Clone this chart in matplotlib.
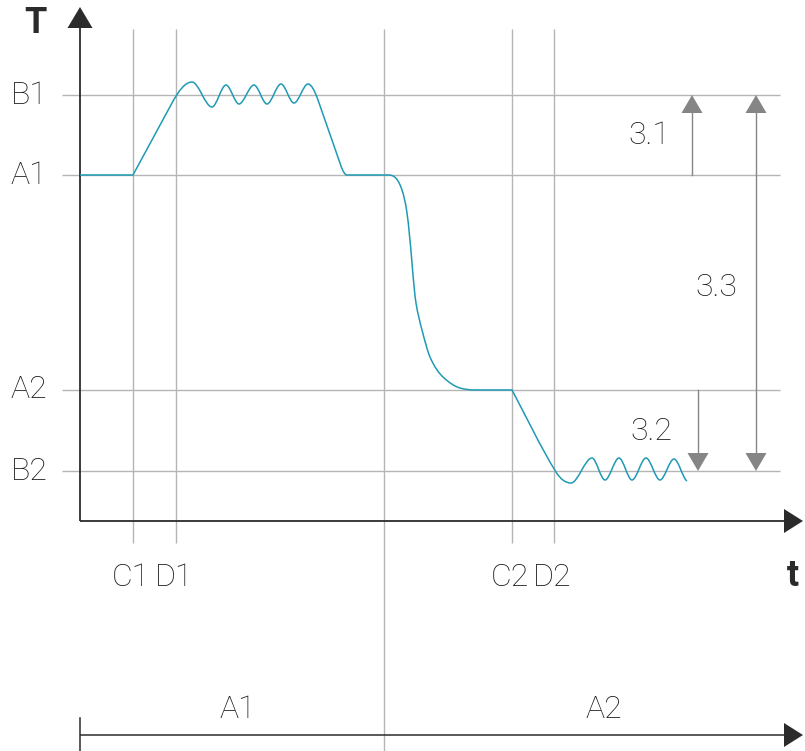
import matplotlib
matplotlib.use("Agg")
import matplotlib.pyplot as plt
from matplotlib.path import Path
from matplotlib.patches import PathPatch, Polygon

# ---- levels on the T axis and marked instants on the t axis ----
level_names = ["B1", "A1", "A2", "B2"]
level_values = [426, 346, 131, 50]

time_names = ["C1", "D1", "C2", "D2"]
time_values = [53, 96, 432, 474]
phase_split = 304
phase_names = ["A1", "A2"]

# ---- temperature trace: knots (t, T, dT/dt) joined by cubic Hermite segments ----
knot_t = [0, 53, 53, 92, 112, 132, 146, 159, 174, 187, 201, 214, 228, 238, 261, 267,
          306, 322, 327, 332, 336, 342, 350, 363, 380, 395, 432, 432, 476, 491,
          512, 525, 539, 552, 566, 580, 594, 607]
knot_T = [346, 346, 346, 418, 439, 414, 436, 417, 436, 417, 437, 418, 437, 421, 355, 346,
          346, 331, 308, 258, 218, 191, 164, 144, 133, 131, 131, 131, 49, 38,
          63, 41, 63, 41, 63, 41, 62, 40]
knot_slope = [0, 0, 1.86, 1.86, 0, 0, 0, 0, 0, 0, 0, 0, 0, -2.8, -2.8, 0,
              0, -3.0, -7.0, -12.0, -6.0, -3.8, -2.3, -0.95, -0.3, 0, 0, -1.88, -1.6, 0,
              0, 0, 0, 0, 0, 0, 0, -0.6]

# ---- annotation arrows: (label, t position, from level, to level(s)) ----
arrow_31 = ("3.1", 612, "A1", ["B1"])
arrow_32 = ("3.2", 618, "A2", ["B2"])
arrow_33 = ("3.3", 676, None, ["B1", "B2"])

TRACE = "#1f9ab4"
GRID = "#b5b5b5"
AXIS = "#2b2b2b"
ARROW = "#858585"
TEXT = "#1a1a1a"

plt.rcParams["font.family"] = ["Roboto", "DejaVu Sans"]

fig = plt.figure(figsize=(8.05, 7.51), dpi=100)
ax = fig.add_axes([0, 0, 1, 1])
ax.set_xlim(-80, 725)
ax.set_ylim(-230, 521)
ax.axis("off")

lvl = dict(zip(level_names, level_values))

# grid lines for levels and instants
for v in level_values:
    ax.plot([-18, 700], [v, v], color=GRID, lw=1.0, zorder=1, solid_capstyle="butt")
for v in time_values:
    ax.plot([v, v], [-22, 492], color=GRID, lw=1.0, zorder=1, solid_capstyle="butt")
ax.plot([phase_split, phase_split], [-230, 492], color=GRID, lw=1.0, zorder=1,
        solid_capstyle="butt")

# main axes with arrowheads
ax.plot([0, 0], [0, 494], color=AXIS, lw=1.3, zorder=3, solid_capstyle="butt")
ax.plot([0, 705], [0, 0], color=AXIS, lw=1.3, zorder=3, solid_capstyle="butt")
ax.add_patch(Polygon([[-12.5, 493], [12.5, 493], [0, 514]], closed=True,
                     color=AXIS, lw=0, zorder=4))
ax.add_patch(Polygon([[704, 12], [704, -12], [723, 0]], closed=True,
                     color=AXIS, lw=0, zorder=4))

# phase time line at the bottom
y_phase = -214
ax.plot([0, 705], [y_phase, y_phase], color=AXIS, lw=1.1, zorder=3, solid_capstyle="butt")
ax.plot([0, 0], [-197, -230], color=AXIS, lw=1.1, zorder=3)
ax.add_patch(Polygon([[704, y_phase + 12], [704, y_phase - 12], [723, y_phase]],
                     closed=True, color=AXIS, lw=0, zorder=4))

# temperature trace
verts = [(knot_t[0], knot_T[0])]
codes = [Path.MOVETO]
for i in range(len(knot_t) - 1):
    x0, y0, s0 = knot_t[i], knot_T[i], knot_slope[i]
    x1, y1, s1 = knot_t[i + 1], knot_T[i + 1], knot_slope[i + 1]
    h = (x1 - x0) / 3.0
    verts += [(x0 + h, y0 + s0 * h), (x1 - h, y1 - s1 * h), (x1, y1)]
    codes += [Path.CURVE4] * 3
ax.add_patch(PathPatch(Path(verts, codes), fill=False, edgecolor=TRACE, lw=1.1,
                       zorder=5, capstyle="butt"))

# dimension arrows
HEAD_L, HEAD_W = 18, 10.5


def head(x, tip, direction):
    base = tip - direction * HEAD_L
    ax.add_patch(Polygon([[x - HEAD_W, base], [x + HEAD_W, base], [x, tip]],
                         closed=True, color=ARROW, lw=0, zorder=4))
    return base


for label, x, start, ends in (arrow_31, arrow_32, arrow_33):
    if start is None:
        hi, lo = lvl[ends[0]], lvl[ends[1]]
        b_hi = head(x, hi, 1)
        b_lo = head(x, lo, -1)
        ax.plot([x, x], [b_lo, b_hi], color=ARROW, lw=1.0, zorder=4)
    else:
        y0 = lvl[start]
        tip = lvl[ends[0]]
        d = 1 if tip > y0 else -1
        b = head(x, tip, d)
        ax.plot([x, x], [y0, b], color=ARROW, lw=1.0, zorder=4)

FS = 23
FW = "light"
ax.text(569, 386, arrow_31[0], ha="center", va="center", fontsize=FS, color=TEXT,
        fontweight=FW)
ax.text(571, 90, arrow_32[0], ha="center", va="center", fontsize=FS, color=TEXT,
        fontweight=FW)
ax.text(636, 234, arrow_33[0], ha="center", va="center", fontsize=FS, color=TEXT,
        fontweight=FW)

# level labels
for name, v in zip(level_names, level_values):
    ax.text(-51, v, name, ha="center", va="center", fontsize=FS, color=TEXT,
            fontweight=FW)

# instant labels
for name, v in zip(time_names, time_values):
    ax.text(v - 2, -56, name, ha="center", va="center", fontsize=FS, color=TEXT,
            fontweight=FW)

# phase labels
ax.text((0 + phase_split) / 2 + 6, -189, phase_names[0], ha="center", va="center",
        fontsize=FS, color=TEXT, fontweight=FW)
ax.text((phase_split + 723) / 2 + 10, -189, phase_names[1], ha="center", va="center",
        fontsize=FS, color=TEXT, fontweight=FW)

# axis titles
ax.text(-45, 498, "T", ha="center", va="center", fontsize=26, color=AXIS,
        fontweight="bold")
ax.text(713, -55, "t", ha="center", va="center", fontsize=26, color=AXIS,
        fontweight="bold")

fig.savefig("out.png", dpi=100)
